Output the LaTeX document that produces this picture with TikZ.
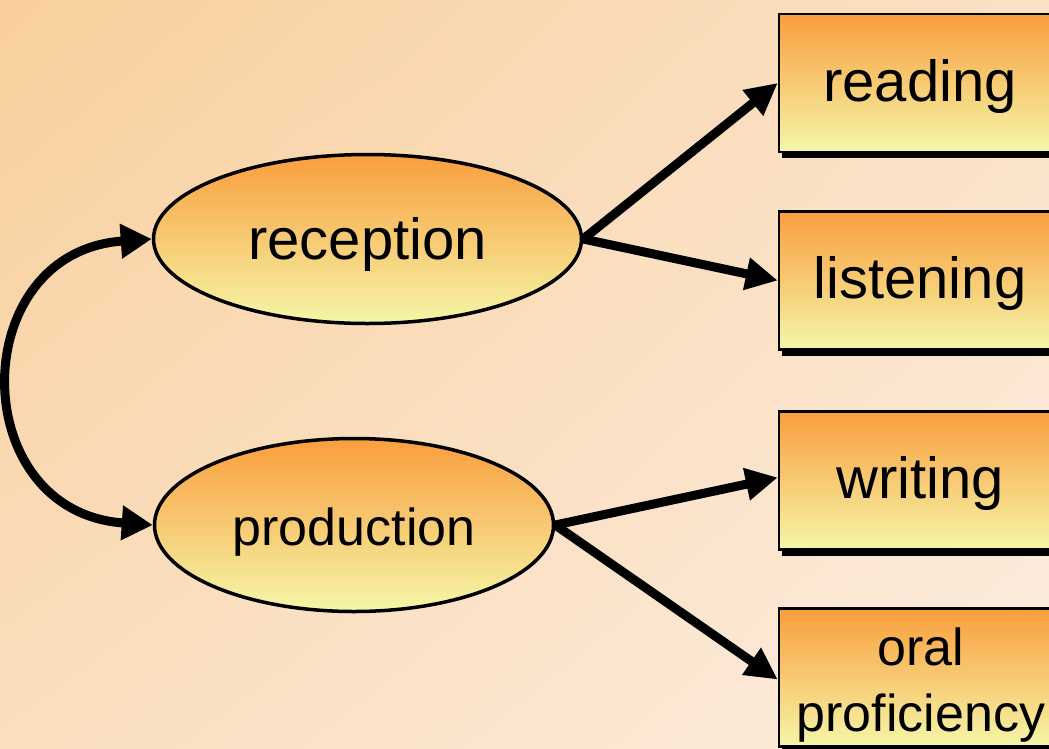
\documentclass[tikz,border=0pt]{standalone}
\usepackage{fontspec}
\setmainfont{Liberation Sans}
\usetikzlibrary{shapes.geometric,arrows.meta,shadows,shadings}
\definecolor{bgTL}{RGB}{249,207,156}
\definecolor{bgTR}{RGB}{250,225,198}
\definecolor{bgBL}{RGB}{250,222,190}
\definecolor{bgBR}{RGB}{252,237,224}
\definecolor{gOrange}{RGB}{249,158,62}
\definecolor{gYellow}{RGB}{245,246,168}
\begin{document}
\begin{tikzpicture}[x=1pt,y=-1pt,
  oval/.style={ellipse, draw=black, line width=3.5pt, inner sep=0pt,
    top color=gOrange, bottom color=gYellow,
    text height=40pt, text depth=0pt},
  skill/.style={rectangle, draw=black, line width=2.5pt, inner sep=0pt,
    minimum width=282pt, minimum height=138pt,
    top color=gOrange, bottom color=gYellow,
    general shadow={fill=black, shadow xshift=3pt, shadow yshift=-6pt},
    text height=36pt, text depth=0pt, font=\fontsize{58}{62}\selectfont},
  lbl/.style={inner sep=0pt, anchor=base, font=\fontsize{52}{56}\selectfont},
  link/.style={line width=9pt, -{Triangle[length=32pt,width=31pt]}},
  dlink/.style={line width=9pt, {Triangle[length=31pt,width=33pt]}-{Triangle[length=31pt,width=33pt]}}]
\useasboundingbox (0,0) rectangle (1049,748);
\clip (0,0) rectangle (1049,748);
\shade[upper left=bgTL, upper right=bgTR, lower left=bgBL, lower right=bgBR]
  (0,0) rectangle (1049,748);

\node[oval, minimum width=428pt, minimum height=169pt,
  font=\fontsize{58}{62}\selectfont] (rec) at (367.5,239) {reception};
\node[oval, minimum width=399pt, minimum height=173pt,
  font=\fontsize{52}{56}\selectfont] (prod) at (354,525) {production};

\node[skill] (read) at (920,83) {reading};
\node[skill] (listen) at (920,280.5) {listening};
\node[skill] (write) at (920,480.5) {writing};
\node[skill] (oral) at (920,677.5) {};
\node[lbl] (oralA) at (921,665) {oral};
\node[lbl] (oralB) at (921,731) {proficiency};

\draw[link] (rec.east) -- (read.west);
\draw[link] (rec.east) -- (listen.west);
\draw[link] (prod.east) -- ([yshift=3pt]write.west);
\draw[link] (prod.east) -- ([yshift=-2pt]oral.west);
\draw[dlink] (rec.west) .. controls (-35,252) and (-35,512) .. (prod.west);
\end{tikzpicture}
\end{document}
